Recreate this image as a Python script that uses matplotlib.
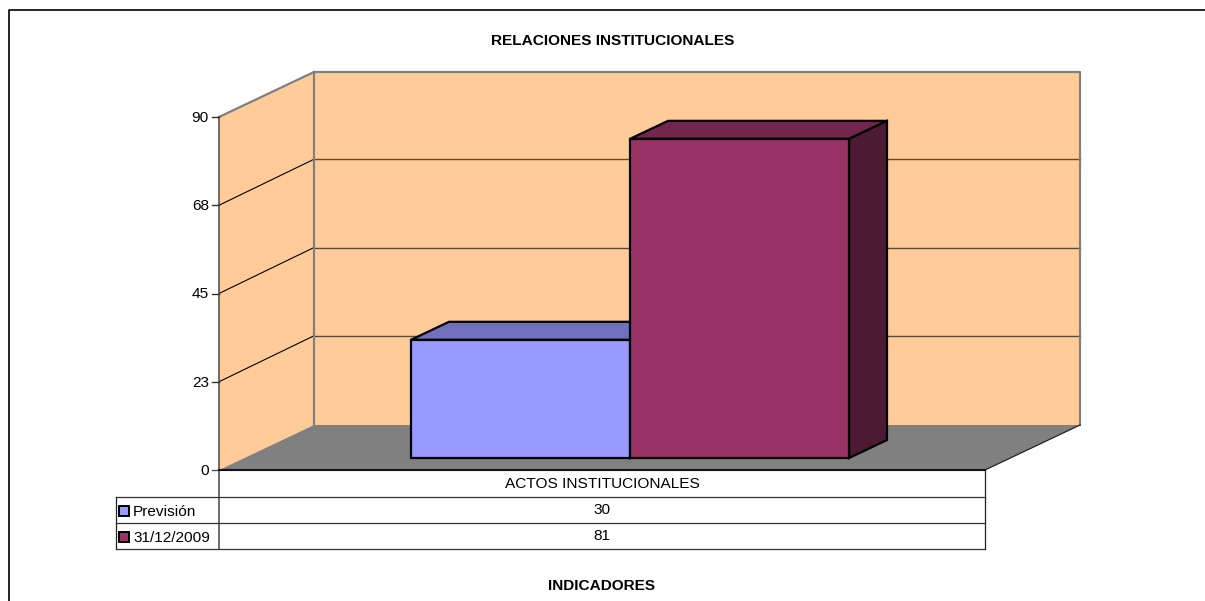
import matplotlib
matplotlib.use('Agg')
import matplotlib.pyplot as plt
from matplotlib.patches import Polygon, Rectangle

plt.rcParams['font.family'] = ['Liberation Sans', 'DejaVu Sans']

title = 'RELACIONES INSTITUCIONALES'
xlabel = 'INDICADORES'
category = 'ACTOS INSTITUCIONALES'
series_names = ['Previsión', '31/12/2009']
series_values = [30, 81]
front_colors = ['#9999FF', '#993366']
top_colors = ['#7070BF', '#73264D']
side_colors = ['#4D4D80', '#4D1A33']
grid_values = [22.5, 45, 67.5, 90]
tick_labels = ['23', '45', '68', '90']

# layout in pixels, y axis runs downwards like the image
X0, X1 = 219, 985
Y0, Y90 = 470, 117
DX, DY = 95, -45
BAR_X, BAR_W, BAR_BASE = 411, 219, 458
BAR_DX, BAR_DY = 38, -18
PX_PER_UNIT = (Y0 - Y90) / 90
BAR_PX_PER_UNIT = 3.94
ROWS = [470, 497, 523, 549]
TABLE_LEFT = 116
FS = 11.05


def val_y(v):
    return Y0 - v * PX_PER_UNIT


fig = plt.figure(figsize=(12.05, 6.01), dpi=100)
ax = fig.add_axes([0, 0, 1, 1])
ax.set_xlim(0, 1205)
ax.set_ylim(601, 0)
ax.axis('off')

# outer frame, only top and left show
ax.plot([9, 9, 1205], [601, 10, 10], color='black', lw=1.2, zorder=1)

# walls and floor
ax.add_patch(Polygon([(X0, Y90), (X0 + DX, Y90 + DY), (X0 + DX, Y0 + DY), (X0, Y0)],
                     fc='#FFCC99', ec='none', zorder=1))
ax.add_patch(Polygon([(X0 + DX, Y90 + DY), (X1 + DX, Y90 + DY), (X1 + DX, Y0 + DY), (X0 + DX, Y0 + DY)],
                     fc='#FFCC99', ec='none', zorder=1))
ax.add_patch(Polygon([(X0, Y0), (X0 + DX, Y0 + DY), (X1 + DX, Y0 + DY), (X1, Y0)],
                     fc='#808080', ec='none', zorder=2))

for v in grid_values[:-1]:
    y = val_y(v)
    ax.plot([X0, X0 + DX], [y, y + DY - 1], color='black', lw=0.8, zorder=3)
    ax.plot([X0 + DX, X1 + DX], [y + DY - 1, y + DY - 1], color='#5A4A38', lw=1.0, zorder=3)

# wall outlines
ax.plot([X0, X0 + DX, X1 + DX, X1 + DX], [Y90, Y90 + DY, Y90 + DY, Y0 + DY], color='#808080', lw=1.6, zorder=3)
ax.plot([X0 + DX, X0 + DX], [Y90 + DY, Y0 + DY], color='#808080', lw=1.6, zorder=3)
ax.plot([X1, X1 + DX], [Y0, Y0 + DY], color='#222222', lw=0.9, zorder=3)

# value axis
ax.plot([X0, X0], [Y90, ROWS[-1]], color='#555555', lw=1.2, zorder=4)
ax.plot([X0 - 7, X0], [Y0, Y0], color='#555555', lw=1.0, zorder=4)
ax.text(X0 - 10, Y0 + 1, '0', ha='right', va='center', fontsize=FS, color='black')
for v, lab in zip(grid_values, tick_labels):
    y = val_y(v)
    ax.plot([X0 - 7, X0], [y, y], color='#333333', lw=1.0, zorder=4)
    ax.text(X0 - 10, y + 1, lab, ha='right', va='center', fontsize=FS, color='black')

# bars
for i, v in enumerate(series_values):
    x = BAR_X + i * BAR_W
    top = BAR_BASE - v * BAR_PX_PER_UNIT
    ax.add_patch(Polygon([(x, top), (x + BAR_DX, top + BAR_DY), (x + BAR_W + BAR_DX, top + BAR_DY), (x + BAR_W, top)],
                         fc=top_colors[i], ec='black', lw=1.6, joinstyle='miter', zorder=5 + i))
    ax.add_patch(Polygon([(x + BAR_W, top), (x + BAR_W + BAR_DX, top + BAR_DY),
                          (x + BAR_W + BAR_DX, BAR_BASE + BAR_DY), (x + BAR_W, BAR_BASE)],
                         fc=side_colors[i], ec='black', lw=1.6, joinstyle='miter', zorder=5 + i))
    ax.add_patch(Rectangle((x, top), BAR_W, BAR_BASE - top,
                           fc=front_colors[i], ec='black', lw=1.6, zorder=5 + i))

# data table
ax.plot([X0, X1], [Y0, Y0], color='#111111', lw=1.5, zorder=6)
ax.plot([X1, X1], [ROWS[0], ROWS[-1]], color='#222222', lw=0.9, zorder=4)
ax.plot([TABLE_LEFT, TABLE_LEFT], [ROWS[1], ROWS[-1]], color='#222222', lw=0.9, zorder=4)
for y in ROWS[1:]:
    ax.plot([TABLE_LEFT, X1], [y, y], color='#333333', lw=0.9, zorder=4)
ax.text((X0 + X1) / 2, (ROWS[0] + ROWS[1]) / 2 + 0.5, category, ha='center', va='center', fontsize=FS)

for i, (name, v) in enumerate(zip(series_names, series_values)):
    yc = (ROWS[i + 1] + ROWS[i + 2]) / 2
    ax.add_patch(Rectangle((TABLE_LEFT + 3, yc - 4), 10, 10, fc=front_colors[i], ec='black', lw=1.4, zorder=5))
    ax.text(TABLE_LEFT + 17, yc + 1.5, name, ha='left', va='center', fontsize=FS)
    ax.text((X0 + X1) / 2, yc + 0.5, str(v), ha='center', va='center', fontsize=FS)

ax.text(613, 41, title, ha='center', va='center', fontsize=11.1, fontweight='bold')
ax.text(601.5, 585.5, xlabel, ha='center', va='center', fontsize=11.1, fontweight='bold')

fig.savefig('out.png', dpi=100)
